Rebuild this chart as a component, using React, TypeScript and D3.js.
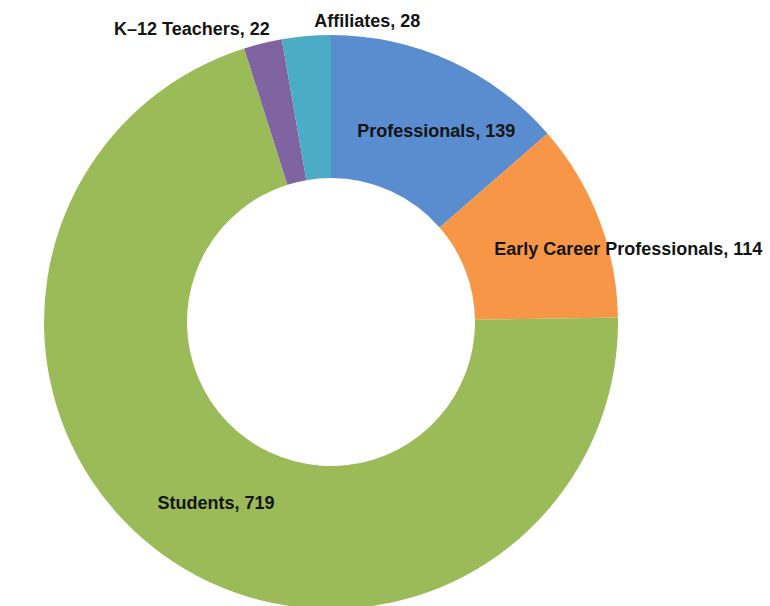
import React from "react";
import * as d3 from "d3";

const categories = ["Professionals", "Early Career Professionals", "Students", "K\u201312 Teachers", "Affiliates"];
const values = [139, 114, 719, 22, 28];
const colors = ["#5A8DD0", "#F79646", "#9BBB59", "#8064A2", "#4BACC6"];

const W = 770;
const H = 606;
const CX = 331;
const CY = 322;
const R = 287;
const R_IN = 144;

// label placement relative to slice centroid (inside) or outer edge (outside)
const labelMode = ["inside", "inside", "inside", "outsideEnd", "outsideStart"];
const labelOffset: [number, number][] = [
  [16, 6],
  [96, 5],
  [11, 7],
  [7, -8],
  [8, -9],
];

export default function App() {
  const pie = d3
    .pie<number>()
    .sort(null)
    .value((d) => d);
  const arcs = pie(values);
  const arc = d3.arc<d3.PieArcDatum<number>>().innerRadius(R_IN).outerRadius(R);
  const outer = d3.arc<d3.PieArcDatum<number>>().innerRadius(R).outerRadius(R);

  return (
    <svg
      width={W}
      height={H}
      style={{ position: "fixed", left: 0, top: 0, background: "#fff" }}
    >
      <g transform={`translate(${CX},${CY})`}>
        {arcs.map((a, i) => (
          <path key={i} d={arc(a) || ""} fill={colors[i]} />
        ))}
        {arcs.map((a, i) => {
          const mode = labelMode[i];
          const [bx, by] = mode === "inside" ? arc.centroid(a) : outer.centroid(a);
          const [dx, dy] = labelOffset[i];
          const anchor = mode === "inside" ? "middle" : mode === "outsideEnd" ? "end" : "start";
          return (
            <text
              key={"t" + i}
              x={bx + dx}
              y={by + dy}
              textAnchor={anchor}
              dominantBaseline={mode === "inside" ? "middle" : "auto"}
              fontFamily="'Liberation Sans', Arial, Helvetica, sans-serif"
              fontWeight="bold"
              fontSize={18}
              fill="#141414"
            >
              {`${categories[i]}, ${values[i]}`}
            </text>
          );
        })}
      </g>
    </svg>
  );
}
